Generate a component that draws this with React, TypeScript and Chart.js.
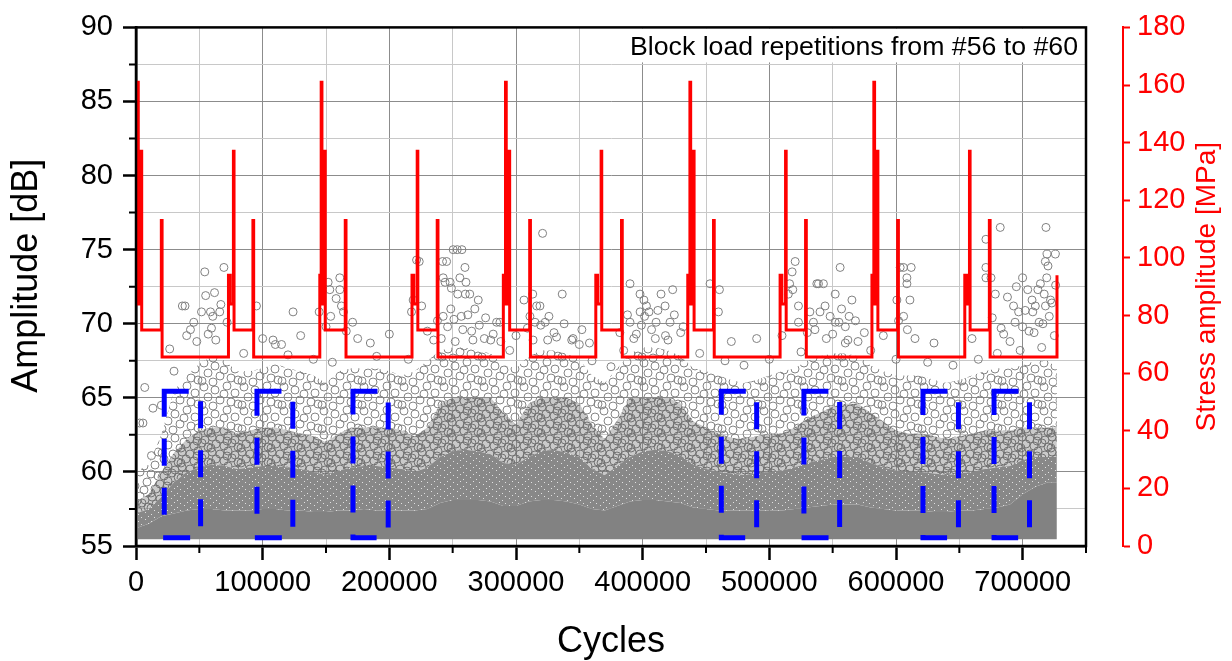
import React, { useEffect, useRef } from 'react';
import { Chart, registerables } from 'chart.js';

Chart.register(...registerables);

const FONT = "'Liberation Sans', Arial, Helvetica, sans-serif";

// ---------- texts ----------
const xTitle = 'Cycles';
const yTitle = 'Amplitude [dB]';
const y2Title = 'Stress amplitude [MPa]';
const noteText = 'Block load repetitions from #56 to #60';

// ---------- axis ranges / ticks ----------
const cycleMin = 0;
const cycleMax = 750000;
const cycleStep = 50000;
const cycleLabelEvery = 100000;
const ampMin = 55;
const ampMax = 90;
const ampStep = 2.5;
const ampLabelEvery = 5;
const stressMin = 0;
const stressMax = 180;
const stressStep = 20;

// ---------- stress amplitude step history (change points) ----------
const stressCycles = [
  0, 1800, 3900, 4500, 20000, 20600,
  73000, 74400, 76900, 77400, 92300, 92900,
  145100, 146200, 146800, 148900, 149400, 165200, 165800,
  217900, 219300, 222000, 222500, 237800, 238400,
  290000, 291700, 292300, 294500, 295000, 310800, 311400,
  363000, 364400, 367200, 367700, 383300, 383900,
  435600, 437300, 437900, 440100, 440600, 455900, 456500,
  508500, 509900, 512800, 513300, 528600, 529200,
  581000, 582500, 583100, 585200, 585700, 601300, 601900,
  654300, 655700, 658000, 658500, 673700, 674300,
  727100,
];
const stressMPa = [
  161, 84, 137, 75, 113, 65.6,
  94, 84, 137, 75, 113, 65.6,
  94, 161, 84, 137, 75, 113, 65.6,
  94, 84, 137, 75, 113, 65.6,
  94, 161, 84, 137, 75, 113, 65.6,
  94, 84, 137, 75, 113, 65.6,
  94, 161, 84, 137, 75, 113, 65.6,
  94, 84, 137, 75, 113, 65.6,
  94, 161, 84, 137, 75, 113, 65.6,
  94, 84, 137, 75, 113, 65.6,
  94,
];

// ---------- AE hit cloud: density envelopes (dB) ----------
const envCycles = [
  0, 10000, 20000, 30000, 40000, 50000, 60000, 70000, 80000, 90000,
  100000, 110000, 120000, 130000, 140000, 150000, 160000, 170000, 180000, 190000,
  200000, 210000, 220000, 230000, 240000, 250000, 260000, 270000, 280000, 290000,
  300000, 310000, 320000, 330000, 340000, 350000, 360000, 370000, 380000, 390000,
  400000, 410000, 420000, 430000, 440000, 450000, 460000, 470000, 480000, 490000,
  500000, 510000, 520000, 530000, 540000, 550000, 560000, 570000, 580000, 590000,
  600000, 610000, 620000, 630000, 640000, 650000, 660000, 670000, 680000, 690000,
  700000, 710000, 720000, 727000,
];
// solid core of overlapping hits
const coreTop = [
  56.2, 56.5, 57.0, 57.2, 57.4, 57.5, 57.5, 57.4, 57.4, 57.4,
  57.5, 57.5, 57.4, 57.4, 57.3, 57.3, 57.4, 57.4, 57.5, 57.4,
  57.4, 57.4, 57.4, 57.5, 57.9, 58.1, 58.1, 58.1, 58.0, 57.7,
  57.7, 58.0, 58.1, 58.1, 58.0, 57.8, 57.5, 57.4, 57.7, 58.0,
  58.1, 58.1, 58.0, 57.9, 57.6, 57.5, 57.4, 57.4, 57.4, 57.4,
  57.4, 57.4, 57.5, 57.6, 57.7, 57.8, 57.8, 57.8, 57.6, 57.5,
  57.4, 57.4, 57.4, 57.3, 57.3, 57.4, 57.4, 57.5, 57.6, 57.8,
  58.5, 59.0, 59.3, 59.3,
];
// nearly solid, speckled zone
const speckTop = [
  57.2, 57.5, 58.3, 59.3, 60.0, 60.3, 60.5, 60.4, 60.2, 60.3,
  60.4, 60.4, 60.3, 60.2, 60.0, 59.8, 60.1, 60.3, 60.4, 60.4,
  60.3, 60.2, 60.0, 60.3, 61.0, 61.4, 61.5, 61.4, 61.2, 60.6,
  60.5, 61.0, 61.4, 61.5, 61.3, 61.0, 60.2, 59.8, 60.4, 61.0,
  61.4, 61.5, 61.4, 61.1, 60.5, 60.2, 60.0, 59.9, 59.8, 59.9,
  60.0, 60.1, 60.3, 60.6, 60.8, 61.0, 61.0, 61.0, 60.6, 60.3,
  60.1, 60.0, 60.0, 59.9, 59.8, 59.9, 60.0, 60.2, 60.3, 60.4,
  60.8, 61.0, 61.0, 61.0,
];
// densely packed individual circles
const denseTop = [
  58.0, 58.5, 60.0, 61.3, 62.2, 62.8, 63.0, 63.0, 62.6, 62.8,
  63.0, 63.0, 62.8, 62.6, 62.4, 62.0, 62.6, 63.0, 63.0, 63.0,
  63.0, 62.8, 62.4, 63.0, 64.6, 65.0, 65.0, 65.0, 65.0, 64.0,
  63.2, 64.6, 65.0, 65.0, 65.0, 64.6, 63.2, 62.2, 63.5, 65.0,
  65.0, 65.0, 65.0, 64.6, 63.4, 63.0, 62.6, 62.3, 62.2, 62.4,
  62.6, 62.6, 63.0, 63.6, 64.0, 64.4, 64.6, 64.6, 64.0, 63.4,
  62.8, 62.6, 62.6, 62.4, 62.2, 62.4, 62.6, 62.8, 62.8, 62.8,
  63.0, 63.0, 63.0, 63.0,
];
// scattered circles
const sparseTop = [
  60.0, 60.5, 62.5, 65.5, 66.5, 67.3, 67.8, 67.5, 66.8, 66.8,
  67.0, 67.3, 67.0, 66.8, 66.5, 66.0, 66.8, 67.0, 67.0, 67.0,
  66.8, 66.5, 66.8, 67.5, 68.2, 68.4, 68.4, 68.2, 68.0, 67.2,
  67.0, 67.8, 68.2, 68.2, 68.0, 67.6, 66.5, 66.0, 67.0, 68.0,
  68.4, 68.4, 68.2, 67.8, 67.0, 66.8, 66.5, 66.2, 66.0, 66.2,
  66.5, 66.8, 67.0, 67.5, 67.8, 68.0, 68.0, 67.8, 67.2, 66.8,
  66.5, 66.5, 66.5, 66.2, 66.0, 66.2, 66.5, 66.8, 67.0, 67.0,
  67.2, 67.5, 67.5, 67.0,
];
const ampFloor = 55.45;

// ---------- individual high-amplitude hits ----------
const hitCycles = [
  2900, 5500, 6900, 13400, 12200, 26600, 36600, 38700, 45600, 51700,
  54300, 58800, 59600, 60600, 66100, 69400, 71900, 95100, 108200, 114900,
  124000, 144600, 151700, 153000, 153700, 160900, 160900, 162200, 163800, 171000,
  217500, 218800, 221500, 223600, 225500, 242000, 242500, 242500, 244000, 245200,
  248000, 248500, 249000, 250400, 253600, 254000, 255700, 256800, 257300, 259700,
  260000, 260500, 263500, 267500, 270200, 284700, 287300, 306300, 311000, 313200,
  315000, 316300, 318900, 321000, 323000, 336500, 390000, 390000, 397900, 398000,
  401000, 401500, 403000, 405000, 410600, 414500, 417700, 421600, 423700, 453200,
  459800, 460600, 515000, 516000, 518000, 518500, 520400, 523000, 523000, 534800,
  537500, 538800, 540000, 542700, 548000, 552000, 552000, 555000, 555900, 560000,
  563000, 565200, 600700, 603300, 605900, 606000, 608600, 608600, 612000, 671000,
  671000, 671000, 675000, 678400, 682300, 692800, 694000, 696800, 700000, 700000,
  704000, 707400, 708000, 710000, 712000, 713000, 714000, 717000, 717900, 718000,
  718400, 719000, 719200, 721000, 722000, 725800,
  40000, 48000, 57000, 63000, 100000, 110000, 130000, 175000, 185000, 200000,
  230000, 235000, 265000, 275000, 300000, 330000, 345000, 350000, 395000, 410000,
  430000, 470000, 490000, 510000, 530000, 545000, 570000, 590000, 615000, 630000,
  660000, 685000, 705000, 690000, 725000,
  20000, 30000, 85000, 120000, 140000, 155000, 190000, 215000, 280000, 295000,
  325000, 360000, 375000, 385000, 420000, 445000, 465000, 480000, 500000, 525000,
  560000, 580000, 600000, 625000, 645000, 665000, 680000, 698000, 715000,
  238000, 241000, 246000, 251000, 252000, 258000, 262000, 266000, 271000, 276000,
  282000, 288000, 309000, 313500, 319500, 326000, 332000, 338000, 344000, 352000,
  358000, 382000, 388000, 393000, 399000, 407000, 412000, 418000, 425000, 432000,
  532000, 536000, 544000, 550000, 557000, 562000, 568000, 575000, 602000, 609000,
  611000, 676000, 683000, 688000, 695000, 702000, 709000, 716000, 723000, 726000,
  720000, 55000, 62000, 43000, 67000, 150000, 158000, 166000,
];
const hitAmps = [
  63.3, 63.3, 65.7, 64.3, 61.1, 68.3, 71.2, 71.2, 70.1, 70.8,
  73.5, 70.8, 69.7, 70.5, 70.8, 73.8, 70.1, 71.2, 68.9, 68.6,
  70.8, 70.8, 72.8, 72.3, 70.5, 73.1, 72.3, 71.2, 70.8, 70.1,
  70.8, 71.6, 74.3, 74.2, 71.2, 74.2, 73.1, 70.5, 72.8, 74.2,
  72.8, 71.0, 72.4, 75.0, 75.0, 72.0, 73.1, 70.5, 75.0, 73.8,
  72.0, 72.8, 72.0, 71.0, 71.6, 70.1, 70.1, 71.6, 70.5, 72.0,
  70.1, 71.2, 71.2, 76.1, 70.1, 72.0, 72.7, 70.1, 72.0, 70.8,
  71.6, 70.5, 71.2, 70.8, 70.1, 72.0, 71.2, 70.1, 72.3, 72.7,
  70.8, 72.3, 72.0, 72.7, 73.5, 72.3, 74.2, 71.2, 70.1, 70.1,
  72.7, 72.7, 70.8, 72.7, 70.5, 72.0, 70.1, 70.1, 73.8, 69.8,
  70.5, 71.6, 71.6, 73.8, 73.8, 70.5, 73.1, 72.7, 73.8, 75.7,
  73.8, 73.1, 73.1, 72.0, 76.5, 71.2, 70.1, 70.8, 73.1, 69.8,
  72.3, 71.6, 70.8, 71.2, 72.3, 70.1, 72.7, 72.0, 74.2, 71.2,
  76.5, 73.1, 74.7, 70.5, 71.6, 74.7,
  69.2, 68.8, 69.3, 68.9, 69.0, 68.6, 69.2, 69.0, 68.7, 69.3,
  69.5, 68.9, 69.5, 69.0, 69.2, 69.4, 69.0, 68.6, 69.3, 69.0,
  69.4, 68.8, 69.0, 69.2, 69.4, 69.0, 68.8, 69.2, 69.0, 68.7,
  69.0, 69.3, 69.5, 68.8, 69.2,
  64.5, 66.8, 68.0, 67.9, 67.6, 67.4, 67.8, 67.6, 68.9, 68.2,
  68.9, 67.5, 67.1, 68.2, 68.9, 68.0, 67.5, 67.2, 67.6, 68.1,
  68.7, 68.2, 67.6, 67.4, 67.2, 67.6, 68.0, 68.2, 68.4,
  70.2, 69.0, 69.8, 70.3, 68.8, 69.6, 70.6, 68.9, 69.9, 70.4,
  69.3, 68.8, 69.7, 68.9, 69.9, 70.5, 69.1, 70.0, 68.9, 69.6,
  68.7, 69.4, 70.6, 69.0, 69.9, 69.6, 70.9, 69.2, 70.6, 69.8,
  70.8, 69.6, 71.2, 69.3, 71.0, 68.9, 70.2, 69.4, 70.2, 69.6,
  71.6, 70.4, 69.7, 71.8, 72.5, 70.9, 69.4, 70.0, 71.4, 72.6,
  73.9, 71.9, 72.1, 69.6, 71.3, 69.8, 71.7, 69.5,
];

// ---------- highlighted windows (dashed boxes) ----------
const boxStart = [22300, 95500, 171300, 462100, 527300, 621300, 677400];
const boxEnd = [51000, 123800, 199100, 490000, 555500, 649300, 705400];
const boxTop = [65.45, 65.45, 65.45, 65.45, 65.45, 65.45, 65.45];
const boxBottom = [55.55, 55.55, 55.55, 55.55, 55.55, 55.55, 55.55];

const MAJOR_GRID = 'rgb(140,140,140)';
const MINOR_GRID = 'rgb(200,200,200)';

// texture tiles (styling only): ring centres inside a tile
const SPARSE_RINGS = [[4, 3], [15, 6], [27, 2], [35, 9], [8, 13], [20, 16], [31, 18], [2, 21], [13, 22], [38, 20], [24, 10]];
const DENSE_RINGS = [[2, 2], [10, 4], [18, 1], [25, 5], [6, 9], [14, 11], [22, 8], [28, 12], [1, 13], [17, 6]];

function ringPattern(w: number, h: number, centers: number[][], r: number, color: string, bg: string | null) {
  const c = document.createElement('canvas');
  c.width = w;
  c.height = h;
  const g = c.getContext('2d')!;
  if (bg) {
    g.fillStyle = bg;
    g.fillRect(0, 0, w, h);
  }
  g.strokeStyle = color;
  g.lineWidth = 1;
  for (const [cx, cy] of centers) {
    for (let i = -1; i <= 1; i++) {
      for (let j = -1; j <= 1; j++) {
        g.beginPath();
        g.arc(cx + i * w, cy + j * h, r, 0, Math.PI * 2);
        g.stroke();
      }
    }
  }
  return g.createPattern(c, 'repeat')!;
}

function speckPattern() {
  const c = document.createElement('canvas');
  c.width = 13;
  c.height = 7;
  const g = c.getContext('2d')!;
  g.fillStyle = 'rgb(136,136,136)';
  g.fillRect(0, 0, 13, 7);
  g.fillStyle = 'rgba(255,255,255,0.75)';
  const dots = [[2, 1], [8, 3], [5, 5], [11, 6]];
  for (const [x, y] of dots) g.fillRect(x, y, 1, 1);
  return g.createPattern(c, 'repeat')!;
}

const overlayPlugin = {
  id: 'overlay',
  afterDatasetsDraw(chart: any) {
    const { ctx, chartArea: ca, scales } = chart;
    const xs = scales.x;
    const ys = scales.y;
    ctx.save();

    // note in the upper right corner
    ctx.font = `26.7px ${FONT}`;
    const tw = ctx.measureText(noteText).width;
    ctx.fillStyle = '#ffffff';
    ctx.fillRect(ca.right - 8 - tw - 10, ca.top + 1, tw + 17, 34);
    ctx.fillStyle = '#000000';
    ctx.textAlign = 'right';
    ctx.textBaseline = 'alphabetic';
    ctx.fillText(noteText, ca.right - 8, ca.top + 28);

    // frame
    ctx.strokeStyle = '#000000';
    ctx.lineWidth = 2.5;
    ctx.strokeRect(ca.left, ca.top, ca.right - ca.left, ca.bottom - ca.top);

    // minor ticks
    ctx.lineWidth = 2;
    ctx.beginPath();
    for (const t of xs.ticks) {
      if (t.value % cycleLabelEvery !== 0) {
        const px = xs.getPixelForValue(t.value);
        ctx.moveTo(px, ca.bottom);
        ctx.lineTo(px, ca.bottom + 7);
      }
    }
    for (const t of ys.ticks) {
      if (t.value % ampLabelEvery !== 0) {
        const py = ys.getPixelForValue(t.value);
        ctx.moveTo(ca.left, py);
        ctx.lineTo(ca.left - 7, py);
      }
    }
    ctx.stroke();

    // axis titles
    ctx.fillStyle = '#000000';
    ctx.font = `36px ${FONT}`;
    ctx.textAlign = 'center';
    ctx.textBaseline = 'alphabetic';
    ctx.fillText(xTitle, (ca.left + ca.right) / 2, ca.bottom + 106);

    ctx.save();
    ctx.translate(ys.left + 37, (ca.top + ca.bottom) / 2 - 11);
    ctx.rotate(-Math.PI / 2);
    ctx.fillText(yTitle, 0, 0);
    ctx.restore();

    const y2 = scales.y2;
    ctx.save();
    ctx.translate(y2.left + 92, (ca.top + ca.bottom) / 2);
    ctx.rotate(-Math.PI / 2);
    ctx.font = `28px ${FONT}`;
    ctx.fillStyle = '#ff0000';
    ctx.fillText(y2Title, 0, 0);
    ctx.restore();

    ctx.restore();
  },
};

export default function App() {
  const ref = useRef<HTMLCanvasElement>(null);

  useEffect(() => {
    document.body.style.margin = '0';
    const canvas = ref.current!;
    const densePat = ringPattern(30, 15, DENSE_RINGS, 4, '#727272', 'rgba(128,128,128,0.42)');
    const sparsePat = ringPattern(40, 24, SPARSE_RINGS, 4, '#858585', null);
    const speckPat = speckPattern();

    const env = (vals: number[]) => envCycles.map((x, i) => ({ x, y: vals[i] }));
    const tickFont = { family: FONT, size: 29 };
    const layer = (vals: number[], fill: any, bg: any) => ({
      type: 'line',
      data: env(vals),
      yAxisID: 'y',
      fill,
      backgroundColor: bg,
      borderColor: 'rgba(0,0,0,0)',
      borderWidth: 0,
      pointRadius: 0,
      tension: 0,
    });

    const boxSets = boxStart.map((x1, i) => ({
      type: 'line',
      data: [
        { x: x1, y: boxTop[i] },
        { x: boxEnd[i], y: boxTop[i] },
        { x: boxEnd[i], y: boxBottom[i] },
        { x: x1, y: boxBottom[i] },
        { x: x1, y: boxTop[i] },
      ],
      borderColor: '#0000ff',
      borderWidth: 5,
      borderDash: [22, 27],
      borderCapStyle: 'square',
      borderJoinStyle: 'miter',
      pointRadius: 0,
      fill: false,
      tension: 0,
      yAxisID: 'y',
    }));

    const chart = new Chart(canvas, {
      type: 'line',
      data: {
        datasets: [
          {
            type: 'line',
            data: stressCycles.map((x, i) => ({ x, y: stressMPa[i] })),
            yAxisID: 'y2',
            borderColor: '#ff0000',
            borderWidth: 3,
            pointRadius: 0,
            stepped: true,
            fill: false,
            tension: 0,
            borderJoinStyle: 'miter',
          },
          ...boxSets,
          {
            type: 'scatter',
            data: hitCycles.map((x, i) => ({ x, y: hitAmps[i] })),
            yAxisID: 'y',
            pointRadius: 4,
            pointStyle: 'circle',
            borderColor: '#808080',
            backgroundColor: 'rgba(0,0,0,0)',
            borderWidth: 1,
          },
          layer(sparseTop, '+1', sparsePat),
          layer(denseTop, '+1', densePat),
          layer(speckTop, '+1', speckPat),
          layer(coreTop, { value: ampFloor }, 'rgb(130,130,130)'),
        ] as any,
      },
      options: {
        animation: false,
        responsive: false,
        devicePixelRatio: 1,
        events: [],
        layout: { padding: { top: 24, left: 0, right: 0, bottom: 0 } },
        plugins: { legend: { display: false }, tooltip: { enabled: false }, title: { display: false } },
        scales: {
          x: {
            type: 'linear',
            position: 'bottom',
            min: cycleMin,
            max: cycleMax,
            ticks: {
              stepSize: cycleStep,
              autoSkip: false,
              maxRotation: 0,
              minRotation: 0,
              padding: 6,
              font: tickFont,
              color: '#000000',
              callback: (v: any) => (Number(v) % cycleLabelEvery === 0 ? String(v) : ''),
            },
            grid: {
              color: (c: any) => (c.tick && c.tick.value % cycleLabelEvery === 0 ? MAJOR_GRID : MINOR_GRID),
              lineWidth: 1,
              tickLength: 14,
              tickWidth: 2.5,
              tickColor: (c: any) => (c.tick && c.tick.value % cycleLabelEvery === 0 ? '#000000' : 'rgba(0,0,0,0)'),
            },
            border: { color: '#000000', width: 2.5 },
            afterFit: (s: any) => {
              s.height = 115;
            },
          },
          y: {
            type: 'linear',
            position: 'left',
            min: ampMin,
            max: ampMax,
            ticks: {
              stepSize: ampStep,
              autoSkip: false,
              padding: 10,
              font: tickFont,
              color: '#000000',
              callback: (v: any) => (Number(v) % ampLabelEvery === 0 ? String(v) : ''),
            },
            grid: {
              color: (c: any) => (c.tick && c.tick.value % ampLabelEvery === 0 ? MAJOR_GRID : MINOR_GRID),
              lineWidth: 1,
              tickLength: 13,
              tickWidth: 2.5,
              tickColor: (c: any) => (c.tick && c.tick.value % ampLabelEvery === 0 ? '#000000' : 'rgba(0,0,0,0)'),
            },
            border: { color: '#000000', width: 2.5 },
            afterFit: (s: any) => {
              s.width = 136;
            },
          },
          gap: {
            type: 'linear',
            position: 'right',
            weight: 1,
            min: 0,
            max: 1,
            display: true,
            ticks: { display: false },
            grid: { display: false },
            border: { display: false },
            afterFit: (s: any) => {
              s.width = 37;
            },
          },
          y2: {
            type: 'linear',
            position: 'right',
            weight: 2,
            min: stressMin,
            max: stressMax,
            ticks: { stepSize: stressStep, padding: 7, font: tickFont, color: '#ff0000' },
            grid: { drawOnChartArea: false, tickLength: 7, tickWidth: 2, tickColor: '#ff0000', color: '#ff0000' },
            border: { color: '#ff0000', width: 2 },
            afterFit: (s: any) => {
              s.width = 109;
            },
          },
        },
      } as any,
      plugins: [overlayPlugin],
    });
    return () => chart.destroy();
  }, []);

  return (
    <div style={{ position: 'absolute', left: 0, top: 0, width: 1232, height: 661, background: '#ffffff' }}>
      <canvas ref={ref} width={1232} height={661} style={{ display: 'block' }} />
    </div>
  );
}
